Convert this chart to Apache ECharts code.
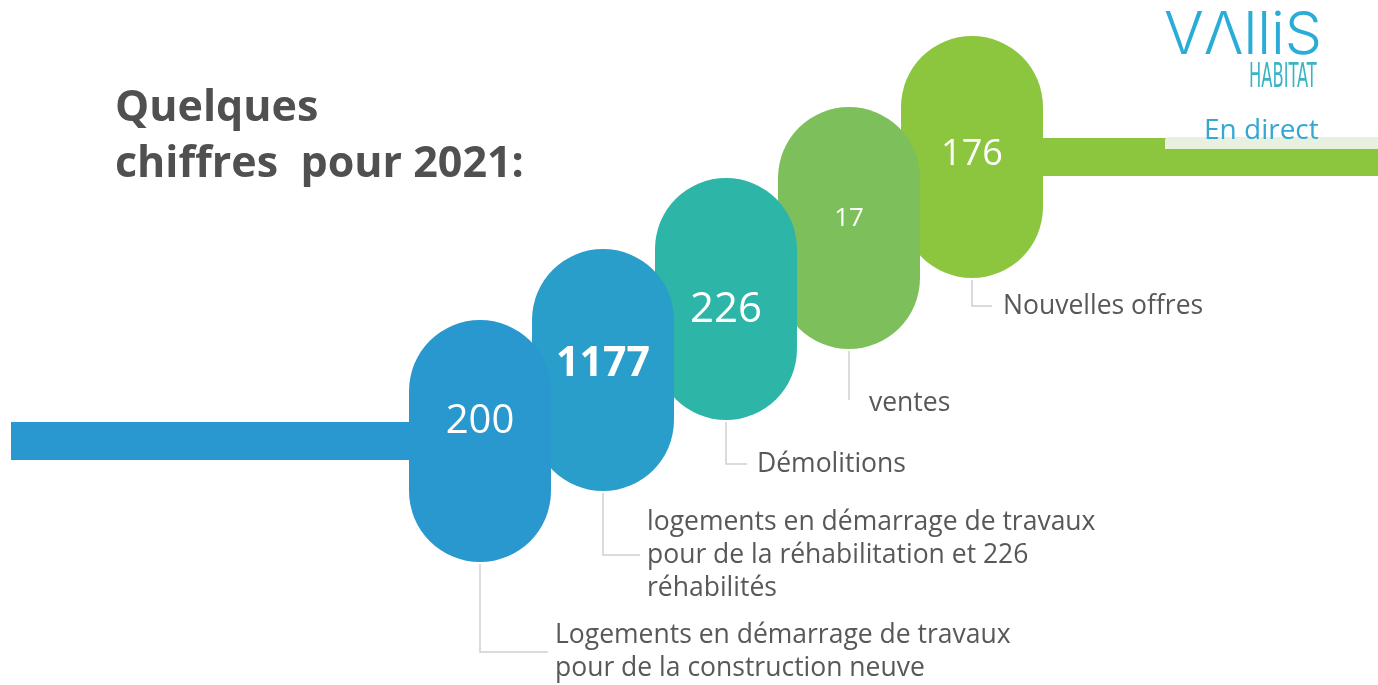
<!DOCTYPE html>
<html>
<head>
<meta charset="utf-8">
<script src="https://cdn.jsdelivr.net/npm/echarts@6/dist/echarts.min.js"></script>
<style>
  html, body { margin: 0; padding: 0; background: #fff; }
  #chart { width: 1378px; height: 685px; }
</style>
</head>
<body>
<div id="chart"></div>
<script>
var categories = ['Construction neuve', 'Réhabilitation', 'Démolitions', 'Ventes', 'Nouvelles offres'];
var values = [200, 1177, 226, 17, 176];
var descriptions = [
    'Logements en démarrage de travaux\npour de la construction neuve',
    'logements en démarrage de travaux\npour de la réhabilitation et 226\nréhabilités',
    'Démolitions',
    'ventes',
    'Nouvelles offres'
];

// styling / layout of the staircase
var pillColors = ['#2998cf', '#2a9eca', '#2db5a7', '#7dc05b', '#8cc63f'];
var numStyle = [
    { size: 40, weight: 'normal', dy: -19 },
    { size: 41, weight: 'bold', dy: -6 },
    { size: 42, weight: 'normal', dy: 11 },
    { size: 26, weight: 'normal', dy: -9 },
    { size: 36, weight: 'normal', dy: -2 }
];
// leader lines: vertical drop below the pill, horizontal run, gap to text
var leader = [
    { drop: 90, run: 68, gap: 7 },
    { drop: 64, run: 37, gap: 7 },
    { drop: 44, run: 21, gap: 10 },
    { drop: 51, run: 0, gap: 20 },
    { drop: 28, run: 20, gap: 11 }
];
var stepX = 123, firstX = 480, firstTop = 320, stepY = 71;
var pillW = 142, pillH = 242;

var myChart = echarts.init(document.getElementById('chart'));

function renderPill(params, api) {
    var i = api.value(0);
    var top = firstTop - stepY * i;
    var p = api.coord([i, top]);
    var pb = api.coord([i, top + pillH]);
    var h = pb[1] - p[1];
    var cy = p[1] + h / 2;
    var children = [];
    if (i === 0) {
        children.push({
            type: 'rect', z2: 1,
            shape: { x: 11, y: cy - 19, width: p[0] - 11, height: 38 },
            style: { fill: '#2998d0' }
        });
    }
    if (i === values.length - 1) {
        children.push({
            type: 'rect', z2: 1,
            shape: { x: p[0], y: cy - 19, width: api.getWidth() - p[0], height: 38 },
            style: { fill: '#8cc63f' }
        });
    }
    children.push({
        type: 'rect', z2: 20 - i,
        shape: { x: p[0] - pillW / 2, y: p[1], width: pillW, height: h, r: pillW / 2 },
        style: { fill: pillColors[i] }
    });
    var ns = numStyle[i];
    children.push({
        type: 'text', z2: 40,
        style: {
            text: String(values[i]), x: p[0], y: cy + ns.dy,
            fill: '#ffffff', fontSize: ns.size, fontWeight: ns.weight,
            fontFamily: '"Open Sans", "Noto Sans", sans-serif',
            align: 'center', verticalAlign: 'middle'
        }
    });
    var ld = leader[i];
    var cornerY = pb[1] + ld.drop;
    var pts = [[p[0], pb[1] + 2], [p[0], cornerY]];
    if (ld.run > 0) pts.push([p[0] + ld.run, cornerY]);
    children.push({
        type: 'polyline', z2: 2,
        shape: { points: pts },
        style: { stroke: '#d0d0d0', lineWidth: 1.5, fill: null }
    });
    children.push({
        type: 'text', z2: 40,
        style: {
            text: descriptions[i], x: p[0] + ld.run + ld.gap, y: cornerY + (ld.run > 0 ? 0 : 3),
            fill: '#585858', fontSize: 26.5, lineHeight: 33,
            fontFamily: '"Open Sans", "Noto Sans", sans-serif',
            align: 'left', verticalAlign: 'middle'
        }
    });
    return { type: 'group', children: children };
}

myChart.setOption({
    backgroundColor: '#ffffff',
    animation: false,
    title: {
        text: 'Quelques\nchiffres  pour 2021:',
        left: 110, top: 76,
        textStyle: {
            color: '#505050', fontSize: 43, fontWeight: 'bold', lineHeight: 56,
            fontFamily: '"Open Sans", "Noto Sans", sans-serif'
        }
    },
    grid: { left: 0, right: 0, top: 0, bottom: 0 },
    xAxis: { type: 'value', min: -firstX / stepX, max: (1378 - firstX) / stepX, show: false },
    yAxis: { type: 'value', min: 0, max: 685, inverse: true, show: false },
    graphic: [
        { type: 'rect', z: 100, shape: { x: 1165, y: 137, width: 213, height: 12, r: [4, 0, 0, 0] }, style: { fill: '#e8f1df' } },
        { type: 'text', z: 100, x: 1204, y: 131, style: { text: 'En direct', fill: '#35a7d3', fontSize: 28, fontFamily: '"Open Sans", sans-serif', verticalAlign: 'middle' } },
        { type: 'text', z: 100, x: 1164, y: 36, style: { text: 'VΛlliS', fill: '#29acd7', fontSize: 59, fontWeight: 300, fontFamily: 'Inter, "DejaVu Sans", sans-serif', verticalAlign: 'middle' } },
        { type: 'text', z: 100, x: 1249, y: 78, scaleX: 0.55, style: { text: 'HABITAT', fill: '#3ab4c4', fontSize: 33, fontFamily: '"Liberation Sans Narrow", "DejaVu Sans Condensed", sans-serif', verticalAlign: 'middle' } }
    ],
    series: [{
        type: 'custom',
        name: 'Chiffres 2021',
        renderItem: renderPill,
        data: values.map(function (v, i) { return [i, v, categories[i]]; }),
        encode: { x: 0 },
        silent: true,
        clip: false
    }]
});
</script>
</body>
</html>
